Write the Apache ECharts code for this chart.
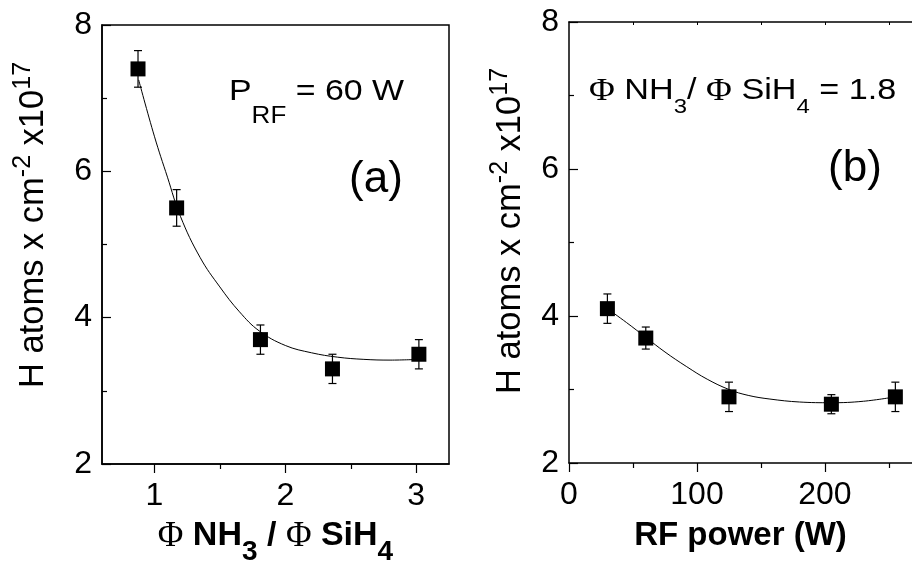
<!DOCTYPE html>
<html>
<head>
<meta charset="utf-8">
<script src="https://cdn.jsdelivr.net/npm/echarts@6/dist/echarts.min.js"></script>
<style>html,body{margin:0;padding:0;background:#fff}#c{width:912px;height:561px}</style>
</head>
<body>
<div id="c"></div>
<script>
// ---- Panel (a): H atoms vs flow ratio ----
const ratioX = [0.875, 1.17, 1.81, 2.36, 3.02];
const hAtomsA = [7.4, 5.5, 3.7, 3.3, 3.5];
const errA = [0.25, 0.25, 0.2, 0.2, 0.2];
const fitAx = [0.88, 1.0, 1.1, 1.2, 1.35, 1.5, 1.65, 1.8, 2.0, 2.2, 2.4, 2.6, 2.8, 3.02];
const fitAy = [7.25, 6.48, 5.92, 5.38, 4.82, 4.42, 4.08, 3.82, 3.62, 3.52, 3.46, 3.43, 3.42, 3.43];
// ---- Panel (b): H atoms vs RF power ----
const powerX = [30, 60, 125, 205, 255];
const hAtomsB = [4.1, 3.7, 2.9, 2.8, 2.9];
const errB = [0.2, 0.15, 0.2, 0.13, 0.2];
const fitBx = [30, 45, 60, 75, 92, 108, 125, 140, 157, 180, 205, 230, 255];
const fitBy = [4.1, 3.91, 3.71, 3.51, 3.31, 3.14, 3.0, 2.92, 2.87, 2.83, 2.82, 2.84, 2.9];
// ---- ticks ----
const xTicksA = [1, 2, 3];
const xMinorA = [1.5, 2.5];
const xTicksB = [0, 100, 200];
const xMinorB = [50, 150, 250];
const xTopTicksB = [50, 100, 150, 200, 250];
const yMin = 2, yMax = 8, yStep = 2;

const SANS = "'Liberation Sans', Arial, sans-serif";
const SERIF = "'Liberation Serif', 'Times New Roman', serif";

const chart = echarts.init(document.getElementById('c'));

function errSeries(xs, ys, es, xi, yi) {
  return {
    type: 'custom', xAxisIndex: xi, yAxisIndex: yi, z: 3,
    data: xs.map((x, i) => [x, ys[i], es[i]]),
    renderItem: function (params, api) {
      const x = api.value(0), y = api.value(1), e = api.value(2);
      const top = api.coord([x, y + e]);
      const bot = api.coord([x, y - e]);
      const w = 4;
      const st = { stroke: '#000', lineWidth: 1.2 };
      return { type: 'group', children: [
        { type: 'line', shape: { x1: top[0], y1: top[1], x2: bot[0], y2: bot[1] }, style: st },
        { type: 'line', shape: { x1: top[0] - w, y1: top[1], x2: top[0] + w, y2: top[1] }, style: st },
        { type: 'line', shape: { x1: bot[0] - w, y1: bot[1], x2: bot[0] + w, y2: bot[1] }, style: st }
      ]};
    }
  };
}

const tickLabel = { color: '#000', fontFamily: SANS, fontSize: 32 };
const axLine = { show: true, lineStyle: { color: '#000', width: 1.5 } };
const tickLine = { color: '#000', width: 1.2 };

function yAxisDef(gi) {
  return {
    type: 'value', gridIndex: gi, min: yMin, max: yMax, interval: yStep,
    axisLine: axLine,
    axisTick: { show: true, inside: true, length: 9, lineStyle: tickLine },
    minorTick: { show: true, splitNumber: 2, length: 5, lineStyle: tickLine },
    axisLabel: Object.assign({ margin: 10 }, tickLabel),
    splitLine: { show: false }
  };
}

const titleRich = {
  m: { fontFamily: SANS, fontSize: 34, fontWeight: 'bold', color: '#000', lineHeight: 34, verticalAlign: 'top' },
  p: { fontFamily: SERIF, fontSize: 35, color: '#000', lineHeight: 34, verticalAlign: 'top' },
  s: { fontFamily: SANS, fontSize: 28, fontWeight: 'bold', color: '#000', lineHeight: 66, verticalAlign: 'middle' }
};

const yTitleRich = {
  m: { fontFamily: SANS, fontSize: 34.5, color: '#000', lineHeight: 40, verticalAlign: 'bottom' },
  u: { fontFamily: SANS, fontSize: 25, color: '#000', lineHeight: 24, verticalAlign: 'top' }
};

const option = {
  backgroundColor: '#fff',
  animation: false,
  grid: [
    { left: 102, top: 25, width: 347, height: 439, show: true, borderColor: '#000', borderWidth: 1.5,
      backgroundColor: 'transparent', containLabel: false, outerBoundsMode: 'none' },
    { left: 569, top: 22, right: 0, height: 441, show: false, containLabel: false, outerBoundsMode: 'none' }
  ],
  xAxis: [
    {
      type: 'value', gridIndex: 0, min: 0.6, max: 3.25,
      axisLine: axLine,
      axisTick: { show: true, inside: false, length: 9, customValues: xTicksA, lineStyle: tickLine },
      axisLabel: Object.assign({ margin: 16, customValues: xTicksA }, tickLabel),
      splitLine: { show: false },
      name: '{p|Φ}{m| NH}{s|3}{m| / }{p|Φ}{m| SiH}{s|4}',
      nameLocation: 'middle', nameGap: 55,
      nameTextStyle: { rich: titleRich }
    },
    {
      type: 'value', gridIndex: 0, min: 0.6, max: 3.25, position: 'bottom',
      axisLine: { show: false },
      axisTick: { show: true, inside: false, length: 5, customValues: xMinorA, lineStyle: tickLine },
      axisLabel: { show: false },
      splitLine: { show: false }
    },
    {
      type: 'value', gridIndex: 1, min: 0, max: 268,
      axisLine: axLine,
      axisTick: { show: true, inside: false, length: 9, customValues: xTicksB, lineStyle: tickLine },
      axisLabel: Object.assign({ margin: 16, customValues: xTicksB }, tickLabel),
      splitLine: { show: false },
      name: 'RF power (W)',
      nameLocation: 'middle', nameGap: 56,
      nameTextStyle: { fontFamily: SANS, fontSize: 33, fontWeight: 'bold', color: '#000' }
    },
    {
      type: 'value', gridIndex: 1, min: 0, max: 268, position: 'bottom',
      axisLine: { show: false },
      axisTick: { show: true, inside: false, length: 5, customValues: xMinorB, lineStyle: tickLine },
      axisLabel: { show: false },
      splitLine: { show: false }
    },
    {
      type: 'value', gridIndex: 1, min: 0, max: 268, position: 'top',
      axisLine: axLine,
      axisTick: { show: true, inside: true, length: 3, customValues: xTopTicksB, lineStyle: { color: '#000', width: 1 } },
      axisLabel: { show: false },
      splitLine: { show: false }
    }
  ],
  yAxis: [ yAxisDef(0), yAxisDef(1) ],
  graphic: [
    { type: 'text', x: 31, y: 225, rotation: Math.PI / 2, silent: true,
      style: { text: '{m|H atoms x cm}{u|-2}{m| x10}{u|17}', rich: yTitleRich, align: 'center', verticalAlign: 'middle' } },
    { type: 'text', x: 508, y: 231, rotation: Math.PI / 2, silent: true,
      style: { text: '{m|H atoms x cm}{u|-2}{m| x10}{u|17}', rich: yTitleRich, align: 'center', verticalAlign: 'middle' } },
    { type: 'text', x: 229, y: 77, scaleX: 1.13, silent: true,
      style: { text: '{m|P}{s|RF}{m| = 60 W}', align: 'left', verticalAlign: 'top',
        rich: {
          m: { fontFamily: SANS, fontSize: 30, color: '#000', lineHeight: 30, verticalAlign: 'top' },
          s: { fontFamily: SANS, fontSize: 23, color: '#000', lineHeight: 80, verticalAlign: 'middle' }
        } } },
    { type: 'text', x: 376, y: 180, silent: true,
      style: { text: '(a)', fontFamily: SANS, fontSize: 44, fill: '#000', align: 'center', verticalAlign: 'middle' } },
    { type: 'text', x: 589, y: 76, scaleX: 1.14, silent: true,
      style: { text: '{p|Φ}{m| NH}{s|3}{m|/ }{p|Φ}{m| SiH}{s|4}{m| = 1.8}', align: 'left', verticalAlign: 'top',
        rich: {
          m: { fontFamily: SANS, fontSize: 30, color: '#000', lineHeight: 30, verticalAlign: 'top' },
          p: { fontFamily: SERIF, fontSize: 31, color: '#000', lineHeight: 30, verticalAlign: 'top' },
          s: { fontFamily: SANS, fontSize: 21, color: '#000', lineHeight: 63, verticalAlign: 'middle' }
        } } },
    { type: 'text', x: 855, y: 169, silent: true,
      style: { text: '(b)', fontFamily: SANS, fontSize: 44, fill: '#000', align: 'center', verticalAlign: 'middle' } }
  ],
  series: [
    { type: 'line', xAxisIndex: 0, yAxisIndex: 0, data: fitAx.map((x, i) => [x, fitAy[i]]),
      smooth: 0.4, showSymbol: false, symbol: 'none', lineStyle: { color: '#000', width: 1 }, z: 2 },
    errSeries(ratioX, hAtomsA, errA, 0, 0),
    { type: 'scatter', xAxisIndex: 0, yAxisIndex: 0, data: ratioX.map((x, i) => [x, hAtomsA[i]]),
      symbol: 'rect', symbolSize: 15, itemStyle: { color: '#000', opacity: 1 }, z: 4 },
    { type: 'line', xAxisIndex: 2, yAxisIndex: 1, data: fitBx.map((x, i) => [x, fitBy[i]]),
      smooth: 0.4, showSymbol: false, symbol: 'none', lineStyle: { color: '#000', width: 1 }, z: 2 },
    errSeries(powerX, hAtomsB, errB, 2, 1),
    { type: 'scatter', xAxisIndex: 2, yAxisIndex: 1, data: powerX.map((x, i) => [x, hAtomsB[i]]),
      symbol: 'rect', symbolSize: 15, itemStyle: { color: '#000', opacity: 1 }, z: 4 }
  ]
};
chart.setOption(option);
</script>
</body>
</html>
